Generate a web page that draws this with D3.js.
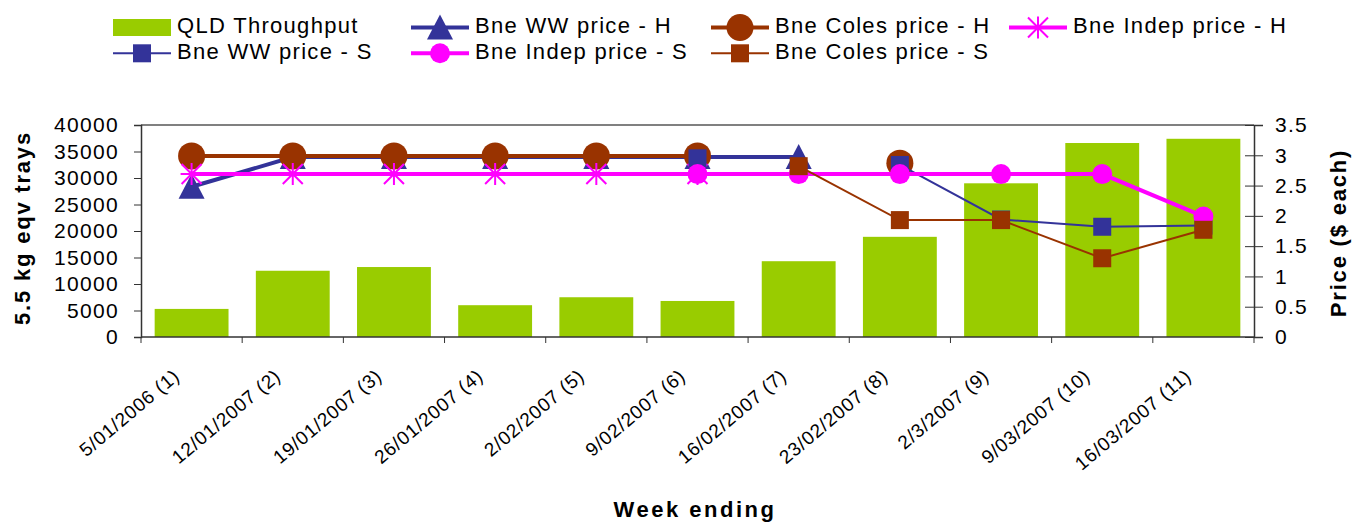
<!DOCTYPE html>
<html>
<head>
<meta charset="utf-8">
<script src="https://cdn.jsdelivr.net/npm/d3@7"></script>
<style>
  body { margin: 0; background: #fff; }
  text { font-family: "Liberation Sans", Arial, sans-serif; fill: #000; }
</style>
</head>
<body>
<div id="app"></div>
<script>
// data
const weeks = ['5/01/2006 (1)', '12/01/2007 (2)', '19/01/2007 (3)', '26/01/2007 (4)', '2/02/2007 (5)',
               '9/02/2007 (6)', '16/02/2007 (7)', '23/02/2007 (8)', '2/3/2007 (9)', '9/03/2007 (10)', '16/03/2007 (11)'];
const throughput = [5300, 12500, 13200, 6000, 7500, 6800, 14300, 18900, 29000, 36600, 37400];
const wwH    = [2.48, 2.97, 2.97, 2.97, 2.97, 2.97, 2.97, null, null, null, null];
const colesH = [2.99, 2.99, 2.99, 2.99, 2.99, 2.99, null, 2.87, null, null, null];
const indepH = [2.69, 2.69, 2.69, 2.69, 2.69, 2.69, null, null, null, null, null];
const wwS    = [null, null, null, null, null, 2.95, null, 2.84, 1.94, 1.82, 1.84];
const indepS = [null, null, null, null, null, 2.69, 2.69, 2.69, 2.69, 2.69, 1.99];
const colesS = [null, null, null, null, null, null, 2.82, 1.93, 1.93, 1.30, 1.77];
const leftTicks  = [0, 5000, 10000, 15000, 20000, 25000, 30000, 35000, 40000];
const rightTicks = [0, 0.5, 1, 1.5, 2, 2.5, 3, 3.5];

const green = '#99cc00', navy = '#333399', brown = '#993300', pink = '#ff00ff';

// drawing order = Excel series order
const series = [
  { name: 'Bne WW price - H',    values: wwH,    color: navy,  width: 4, marker: 'triangle' },
  { name: 'Bne Coles price - H', values: colesH, color: brown, width: 4, marker: 'circle' },
  { name: 'Bne Indep price - H', values: indepH, color: pink,  width: 4, marker: 'star' },
  { name: 'Bne WW price - S',    values: wwS,    color: navy,  width: 2, marker: 'square' },
  { name: 'Bne Indep price - S', values: indepS, color: pink,  width: 4, marker: 'smallcircle' },
  { name: 'Bne Coles price - S', values: colesS, color: brown, width: 2, marker: 'square' }
];

const W = 1370, H = 525;
const pLeft = 141, pRight = 1254, pTop = 125, pBottom = 337;

const svg = d3.select('#app').append('svg')
  .attr('width', W)
  .attr('height', H);

const x = d3.scaleBand().domain(weeks).range([pLeft, pRight]).paddingInner(0.27).paddingOuter(0.135);
const xc = d3.scaleBand().domain(weeks).range([pLeft, pRight]);
const yL = d3.scaleLinear().domain([0, 40000]).range([pBottom, pTop]);
const yR = d3.scaleLinear().domain([0, 3.5]).range([pBottom, pTop]);

// bars
svg.selectAll('rect.bar')
  .data(throughput)
  .enter()
  .append('rect')
  .attr('class', 'bar')
  .attr('x', (d, i) => x(weeks[i]))
  .attr('y', d => yL(d))
  .attr('width', x.bandwidth())
  .attr('height', d => pBottom - yL(d))
  .style('fill', green);

// frame: grey top border
svg.append('line')
  .attr('x1', pLeft).attr('x2', pRight).attr('y1', pTop).attr('y2', pTop)
  .style('stroke', '#808080').style('stroke-width', 2);

// left axis
const axL = svg.append('g').attr('transform', `translate(${pLeft},0)`)
  .call(d3.axisLeft(yL).tickValues(leftTicks).tickSize(7).tickPadding(15).tickFormat(d3.format('d')));
// right axis
const axR = svg.append('g').attr('transform', `translate(${pRight},0)`)
  .call(d3.axisRight(yR).tickValues(rightTicks).tickSize(9).tickPadding(12).tickFormat(d => d));
axR.selectAll('.tick line').attr('x1', -9);
// bottom axis, ticks on category boundaries
const bounds = weeks.map(w => xc(w)).concat([pRight]);
svg.append('line')
  .attr('x1', pLeft).attr('x2', pRight).attr('y1', pBottom).attr('y2', pBottom)
  .style('stroke', '#333').style('stroke-width', 1.5);
svg.selectAll('line.xtick')
  .data(bounds)
  .enter()
  .append('line')
  .attr('class', 'xtick')
  .attr('x1', d => d).attr('x2', d => d)
  .attr('y1', pBottom).attr('y2', pBottom + 6)
  .style('stroke', '#333');

[axL, axR].forEach(a => {
  a.select('.domain').style('stroke', '#333').style('stroke-width', 1.5);
  a.selectAll('.tick line').style('stroke', '#333');
  a.selectAll('text').style('font-size', '21px').style('letter-spacing', '1.3px')
    .style('font-family', '"Liberation Sans", Arial, sans-serif').attr('fill', '#000');
});

// x labels
svg.selectAll('text.xlab')
  .data(weeks)
  .enter()
  .append('text')
  .attr('class', 'xlab')
  .attr('transform', d => `translate(${xc(d) + xc.bandwidth() / 2 - 15},373) rotate(-40)`)
  .attr('text-anchor', 'end')
  .attr('dy', '0.35em')
  .style('font-size', '19px')
  .style('letter-spacing', '0.8px')
  .text(d => d);

// markers
const drawMarker = (g, type, color, cx, cy) => {
  if (type === 'triangle') {
    g.append('path')
      .attr('d', `M${cx},${cy - 13} L${cx + 13},${cy + 12} L${cx - 13},${cy + 12} Z`)
      .style('fill', color);
  } else if (type === 'circle') {
    g.append('circle').attr('cx', cx).attr('cy', cy).attr('r', 13.5).style('fill', color);
  } else if (type === 'smallcircle') {
    g.append('circle').attr('cx', cx).attr('cy', cy).attr('r', 10).style('fill', color);
  } else if (type === 'square') {
    g.append('rect').attr('x', cx - 9).attr('y', cy - 9).attr('width', 18).attr('height', 18).style('fill', color);
  } else if (type === 'star') {
    const r = 11, q = 10;
    g.append('path')
      .attr('d', `M${cx},${cy - r}V${cy + r}M${cx - q},${cy - q}L${cx + q},${cy + q}M${cx - q},${cy + q}L${cx + q},${cy - q}M${cx - r},${cy}H${cx + r}`)
      .style('stroke', color).style('stroke-width', 2).style('fill', 'none');
  }
};

const line = d3.line()
  .defined(d => d.v !== null)
  .x(d => xc(d.w) + xc.bandwidth() / 2)
  .y(d => yR(d.v));

series.forEach(s => {
  const pts = s.values.map((v, i) => ({ w: weeks[i], v: v }));
  const g = svg.append('g');
  g.append('path')
    .attr('d', line(pts))
    .style('fill', 'none')
    .style('stroke', s.color)
    .style('stroke-width', s.width);
  pts.filter(p => p.v !== null).forEach(p => {
    drawMarker(g, s.marker, s.color, xc(p.w) + xc.bandwidth() / 2, yR(p.v));
  });
});

// axis titles
svg.append('text')
  .attr('transform', 'translate(22,228) rotate(-90)')
  .attr('text-anchor', 'middle').attr('dy', '0.35em')
  .style('font-size', '22px').style('font-weight', 'bold').style('letter-spacing', '1.8px')
  .text('5.5 kg eqv trays');
svg.append('text')
  .attr('transform', 'translate(1338,233) rotate(-90)')
  .attr('text-anchor', 'middle').attr('dy', '0.35em')
  .style('font-size', '22px').style('font-weight', 'bold').style('letter-spacing', '1.8px')
  .text('Price ($ each)');
svg.append('text')
  .attr('x', 695).attr('y', 517)
  .attr('text-anchor', 'middle')
  .style('font-size', '22px').style('font-weight', 'bold').style('letter-spacing', '2.5px')
  .text('Week ending');

// legend
const legendCols = [113, 411, 711, 1009];
const legendRows = [27.5, 53.3];
const legendItems = [
  { name: 'QLD Throughput', bar: true, col: 0, row: 0 },
  Object.assign({ col: 1, row: 0 }, series[0]),
  Object.assign({ col: 2, row: 0 }, series[1]),
  Object.assign({ col: 3, row: 0 }, series[2]),
  Object.assign({ col: 0, row: 1 }, series[3]),
  Object.assign({ col: 1, row: 1 }, series[4]),
  Object.assign({ col: 2, row: 1 }, series[5])
];

legendItems.forEach(it => {
  const lx = legendCols[it.col], ly = legendRows[it.row];
  const g = svg.append('g');
  if (it.bar) {
    g.append('rect').attr('x', lx).attr('y', ly - 8.5).attr('width', 58).attr('height', 17).style('fill', green);
  } else {
    g.append('line').attr('x1', lx).attr('x2', lx + 58).attr('y1', ly).attr('y2', ly)
      .style('stroke', it.color).style('stroke-width', it.width);
    drawMarker(g, it.marker, it.color, lx + 29, ly);
  }
  g.append('text')
    .attr('x', lx + 64).attr('y', ly - 2).attr('dy', '0.35em')
    .style('font-size', '22px').style('letter-spacing', '1.3px')
    .text(it.name);
});
</script>
</body>
</html>
